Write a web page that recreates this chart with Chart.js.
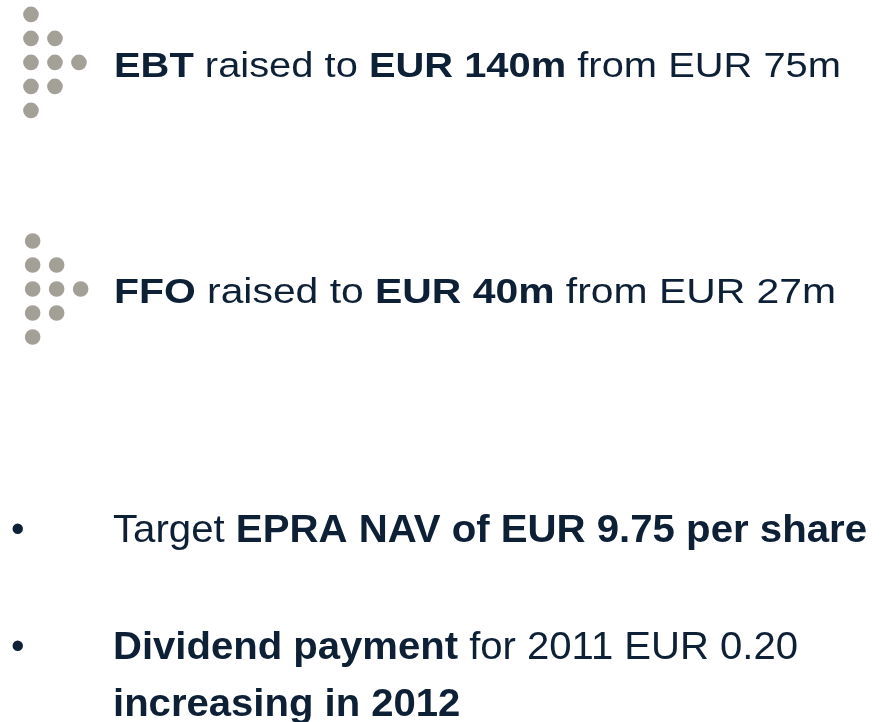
<!DOCTYPE html>
<html>
<head>
<meta charset="utf-8">
<script src="https://cdn.jsdelivr.net/npm/chart.js@4.4.1/dist/chart.umd.min.js"></script>
<style>
  html, body { margin: 0; padding: 0; background: #ffffff; }
  #wrap { width: 886px; height: 722px; position: relative; }
</style>
</head>
<body>
<div id="wrap"><canvas id="c" width="886" height="722"></canvas></div>
<script>
// ---- Data ----
// arrow icon made of dots: column / row index of each dot in the pattern
const iconCols = [0, 0, 1, 0, 1, 2, 0, 1, 0];
const iconRows = [0, 1, 1, 2, 2, 2, 3, 3, 4];
// grid origin of each icon (in dot-step units)
const iconOriginCol = [1.29, 1.36];
const iconOriginRow = [0.60, 10.04];

// text lines: segments and whether each is bold
const line1Text = ['EBT', ' raised to ', 'EUR 140m', ' from EUR 75m'];
const line1Bold = [true, false, true, false];
const line2Text = ['FFO', ' raised to ', 'EUR 40m', ' from EUR 27m'];
const line2Bold = [true, false, true, false];
const line3Text = ['Target ', 'EPRA NAV of EUR 9.75 per share'];
const line3Bold = [false, true];
const line4Text = ['Dividend payment', ' for 2011 EUR 0.20'];
const line4Bold = [true, false];
const line5Text = ['increasing in 2012'];
const line5Bold = [true];
const bulletChar = '\u2022';

// ---- Build dataset from the icon pattern ----
const dotData = [];
for (let k = 0; k < iconOriginCol.length; k++) {
  for (let i = 0; i < iconCols.length; i++) {
    dotData.push({ x: iconOriginCol[k] + iconCols[i], y: iconOriginRow[k] + iconRows[i] });
  }
}

const STEP = 24; // px per dot step
const W = 886, H = 722;
const TEXT_COLOR = '#0d2036';
const FONT = '"Liberation Sans", Arial, Helvetica, sans-serif';

// text layout (pixels)
const textLayout = [
  { t: line1Text, b: line1Bold, x: 114, y: 77,  size: 35.5, right: 841 },
  { t: line2Text, b: line2Bold, x: 114, y: 303, size: 35.5, right: 836 },
  { t: line3Text, b: line3Bold, x: 113, y: 542, size: 38.5, right: 867, bullet: true },
  { t: line4Text, b: line4Bold, x: 113, y: 659, size: 38.5, right: 798, bullet: true },
  { t: line5Text, b: line5Bold, x: 113, y: 716, size: 38.5, sameAs: 3 }
];

const textPlugin = {
  id: 'slideText',
  afterDraw(chart) {
    const ctx = chart.ctx;
    const scales = [];
    textLayout.forEach((L, idx) => {
      ctx.save();
      ctx.fillStyle = TEXT_COLOR;
      ctx.textBaseline = 'alphabetic';
      ctx.textAlign = 'left';
      let w = 0;
      L.t.forEach((s, i) => {
        ctx.font = (L.b[i] ? 'bold ' : '') + L.size + 'px ' + FONT;
        w += ctx.measureText(s).width;
      });
      let sx = 1;
      if (L.right) sx = (L.right - L.x) / w;
      else if (L.sameAs !== undefined) sx = scales[L.sameAs];
      scales[idx] = sx;
      if (L.bullet) {
        ctx.font = L.size + 'px ' + FONT;
        ctx.fillText(bulletChar, 11, L.y);
      }
      ctx.translate(L.x, L.y);
      ctx.scale(sx, 1);
      let cx = 0;
      L.t.forEach((s, i) => {
        ctx.font = (L.b[i] ? 'bold ' : '') + L.size + 'px ' + FONT;
        ctx.fillText(s, cx, 0);
        cx += ctx.measureText(s).width;
      });
      ctx.restore();
    });
  }
};

new Chart(document.getElementById('c'), {
  type: 'scatter',
  data: {
    datasets: [{
      data: dotData,
      pointRadius: 7.8,
      pointHoverRadius: 7.8,
      pointBackgroundColor: '#a3a097',
      pointBorderWidth: 0,
      borderWidth: 0,
      clip: false
    }]
  },
  options: {
    responsive: false,
    animation: false,
    events: [],
    layout: { padding: 0, autoPadding: false },
    plugins: { legend: { display: false }, tooltip: { enabled: false } },
    scales: {
      x: { type: 'linear', display: false, min: 0, max: W / STEP },
      y: { type: 'linear', display: false, min: 0, max: H / STEP, reverse: true }
    }
  },
  plugins: [textPlugin]
});
</script>
</body>
</html>
